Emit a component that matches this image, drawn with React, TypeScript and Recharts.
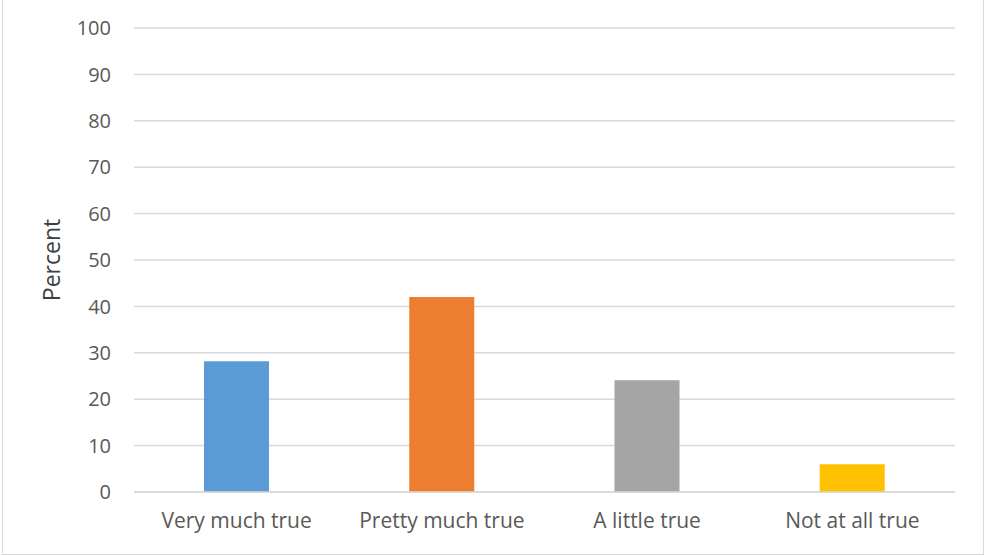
import React from 'react';
import { BarChart, Bar, XAxis, YAxis, CartesianGrid, Cell } from 'recharts';

const categories = ['Very much true', 'Pretty much true', 'A little true', 'Not at all true'];
const percents = [28.2, 42, 24.1, 6];
const yTicks = [0, 10, 20, 30, 40, 50, 60, 70, 80, 90, 100];

const COLORS = ['#5B9BD5', '#ED7D31', '#A5A5A5', '#FFC000'];
const TEXT = '#595959';
const GRID = '#D9D9D9';

const data = categories.map((name, i) => ({ name, value: percents[i] }));

export default function App() {
  return (
    <div style={{ position: 'relative', width: 984, height: 556, background: '#fff', fontFamily: '"Open Sans", sans-serif' }}>
      <style>{'body{margin:0}'}</style>
      {/* chart frame */}
      <div
        style={{
          position: 'absolute',
          left: 2,
          top: 0,
          width: 980,
          height: 554,
          borderLeft: `1px solid ${GRID}`,
          borderRight: `1px solid ${GRID}`,
          borderBottom: `1px solid ${GRID}`,
        }}
      />
      <BarChart
        width={984}
        height={556}
        data={data}
        margin={{ top: 28, right: 29, bottom: 0, left: 0 }}
        style={{ position: 'absolute', left: 0, top: 0 }}
      >
        <CartesianGrid vertical={false} stroke={GRID} strokeWidth={1.5} />
        <XAxis
          dataKey="name"
          height={64}
          tickLine={false}
          tickSize={0}
          tickMargin={21}
          axisLine={{ stroke: GRID, strokeWidth: 1.5 }}
          tick={{ fill: TEXT, fontSize: 21 }}
        />
        <YAxis
          width={134}
          domain={[0, 100]}
          ticks={yTicks}
          interval={0}
          axisLine={false}
          tickLine={false}
          tickSize={0}
          tickMargin={23}
          tick={{ fill: TEXT, fontSize: 20 }}
          label={{ value: 'Percent', angle: -90, position: 'insideLeft', dx: 47, fill: '#404040', fontSize: 23, style: { textAnchor: 'middle' } }}
        />
        <Bar dataKey="value" barSize={65} isAnimationActive={false}>
          {data.map((entry, index) => (
            <Cell key={`cell-${index}`} fill={COLORS[index % COLORS.length]} />
          ))}
        </Bar>
      </BarChart>
    </div>
  );
}
